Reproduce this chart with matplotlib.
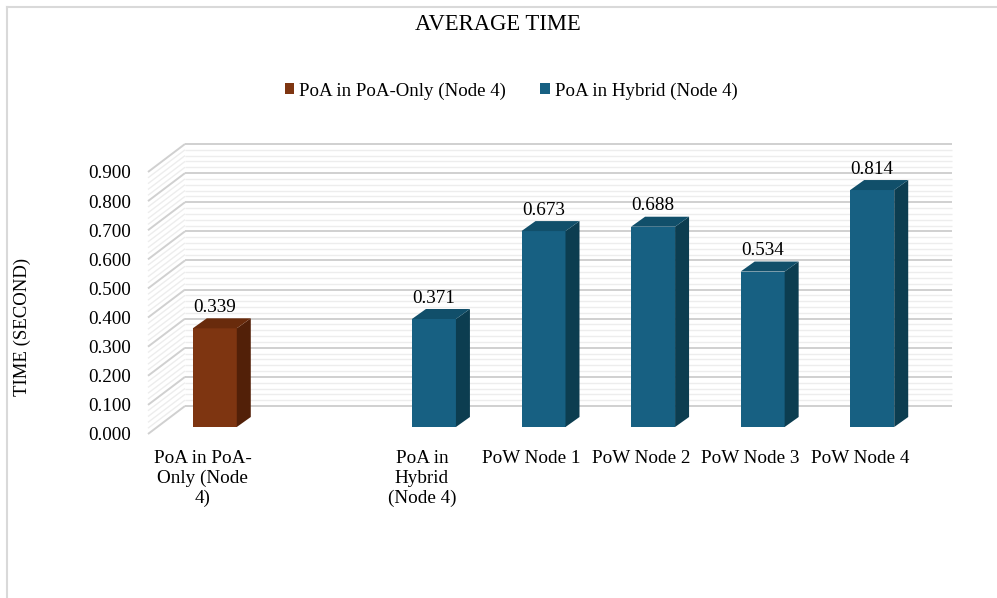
import matplotlib
matplotlib.use("Agg")
from matplotlib import pyplot as plt
from matplotlib.patches import Polygon, Patch
from matplotlib.lines import Line2D
import numpy as np

plt.rcParams['font.family'] = ['Liberation Serif', 'DejaVu Serif']

OUT = "out.png"

# data (blank slot between the two groups, as in the original sheet)
categories = ["PoA in PoA-\nOnly (Node\n4)", "", "PoA in\nHybrid\n(Node 4)",
              "PoW Node 1", "PoW Node 2", "PoW Node 3", "PoW Node 4"]
values = [0.339, None, 0.371, 0.673, 0.688, 0.534, 0.814]
series_of_bar = [0, None, 1, 1, 1, 1, 1]
series_names = ["PoA in PoA-Only (Node 4)", "PoA in Hybrid (Node 4)"]
yticks = [0.0, 0.1, 0.2, 0.3, 0.4, 0.5, 0.6, 0.7, 0.8, 0.9]

# colours per series: front, side, top
FACE = ["#7E3511", "#176082"]
SIDE = ["#522008", "#0C3D50"]
TOP = ["#692B0C", "#114F6A"]

FS = 13.8

W, H = 997, 598
fig = plt.figure(figsize=(W / 100, H / 100), dpi=100)

# front of the plot floor in pixels
X0, X1 = 148, 915
Y0, Y1 = 598 - 434, 598 - 172
ax = fig.add_axes([X0 / W, Y0 / H, (X1 - X0) / W, (Y1 - Y0) / H])
ax.set_xlim(-0.5, len(categories) - 0.5)
ax.set_ylim(0, 0.9)
for s in ax.spines.values():
    s.set_visible(False)

px_x = (X1 - X0) / len(categories)   # pixels per x unit
px_y = (Y1 - Y0) / 0.9               # pixels per y unit

# depth offsets (pixels -> data units)
wall_dx, wall_dy = 37 / px_x, 28 / px_y
bar_dx, bar_dy = 12 / px_x, 7 / px_y
bdep_dx, bdep_dy = 14 / px_x, 10 / px_y
BAR_W = 44 / px_x

xl, xr = -0.5, len(categories) - 0.5

# walls with gridlines
minor = np.arange(0, 0.9001, 0.02)
for g in minor:
    is_major = abs(round(g * 10) - g * 10) < 1e-6
    col = "#D0D0D0" if is_major else "#EDEDED"
    lw = 1.4 if is_major else 1.0
    z = 1 if is_major else 0.5
    ax.plot([xl + wall_dx, xr + wall_dx], [g + wall_dy, g + wall_dy],
            color=col, lw=lw, zorder=z, clip_on=False, solid_capstyle="butt")
    ax.plot([xl, xl + wall_dx], [g, g + wall_dy],
            color=col, lw=lw, zorder=z, clip_on=False, solid_capstyle="butt")

# bars
for i, (v, s) in enumerate(zip(values, series_of_bar)):
    if v is None:
        continue
    x0 = i - BAR_W / 2 + bar_dx
    x1 = i + BAR_W / 2 + bar_dx
    b = bar_dy
    t = v + bar_dy
    front = [(x0, b), (x1, b), (x1, t), (x0, t)]
    side = [(x1, b), (x1 + bdep_dx, b + bdep_dy), (x1 + bdep_dx, t + bdep_dy), (x1, t)]
    top = [(x0, t), (x1, t), (x1 + bdep_dx, t + bdep_dy), (x0 + bdep_dx, t + bdep_dy)]
    ax.add_patch(Polygon(front, closed=True, facecolor=FACE[s], edgecolor="none", zorder=3, clip_on=False))
    ax.add_patch(Polygon(side, closed=True, facecolor=SIDE[s], edgecolor="none", zorder=3, clip_on=False))
    ax.add_patch(Polygon(top, closed=True, facecolor=TOP[s], edgecolor="none", zorder=3, clip_on=False))
    ax.annotate(f"{v:.3f}", xy=(i + bar_dx, t), xytext=(0, 15), textcoords="offset points",
                ha="center", va="center", fontsize=FS, zorder=4, annotation_clip=False)

ax.set_xticks(range(len(categories)))
ax.set_xticklabels(categories, fontsize=FS, linespacing=1.2, va="top")
ax.set_yticks(yticks)
ax.set_yticklabels([f"{t:.3f}" for t in yticks], fontsize=FS)
ax.tick_params(axis="x", length=0, pad=11.5)
ax.tick_params(axis="y", length=0, pad=12)

fig.text(22 / W, 1 - 327 / H, "TIME (SECOND)", rotation=90, ha="center", va="center", fontsize=13.5)
fig.text(498 / W, 1 - 24 / H, "AVERAGE TIME", ha="center", va="center", fontsize=16.3)

handles = [Patch(facecolor=FACE[k], edgecolor="none", label=series_names[k]) for k in range(2)]
fig.legend(handles=handles, loc="center", bbox_to_anchor=(511 / W, 1 - 91 / H), ncol=2,
           frameon=False, fontsize=13.6, handlelength=0.52, handleheight=0.52,
           handletextpad=0.25, columnspacing=1.8)

# chart area border (left and top edges visible)
fig.add_artist(Line2D([6.5 / W, 6.5 / W], [0, 1 - 6.5 / H], color="#D9D9D9", lw=1.5))
fig.add_artist(Line2D([6.5 / W, 1], [1 - 6.5 / H, 1 - 6.5 / H], color="#D9D9D9", lw=1.5))

plt.savefig(OUT, dpi=100)
plt.clf()
